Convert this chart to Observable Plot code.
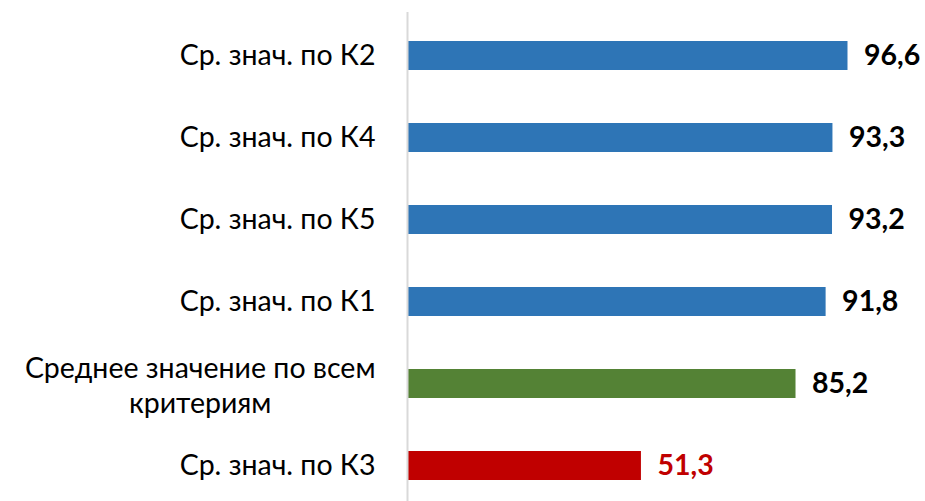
<!DOCTYPE html>
<html><head><meta charset="utf-8">
<script src="https://cdn.jsdelivr.net/npm/d3@7"></script>
<script src="https://cdn.jsdelivr.net/npm/@observablehq/plot@0.6"></script>
<style>body{margin:0;background:#fff} #chart svg{overflow:visible}</style>
</head><body><div id="chart"></div>
<script>
const categories = ["Ср. знач. по К2", "Ср. знач. по К4", "Ср. знач. по К5", "Ср. знач. по К1", "Среднее значение по всем\nкритериям", "Ср. знач. по К3"];
const values = [96.6, 93.3, 93.2, 91.8, 85.2, 51.3];
const groups = ["criterion", "criterion", "criterion", "criterion", "overall", "lowest"];

const groupColors = {criterion: "#2E75B6", overall: "#548235", lowest: "#C00000"};
const labelColors = {criterion: "#000000", overall: "#000000", lowest: "#C00000"};
const FONT = "Lato, 'Open Sans', sans-serif";
const FS = 28.5;
const fmt = v => d3.format(".1f")(v).replace(".", ",");

const data = categories.map((c, i) => ({category: c, value: values[i], group: groups[i]}));
const single = data.filter(d => !d.category.includes("\n"));
const multi = data.filter(d => d.category.includes("\n"));

const ctx = document.createElement("canvas").getContext("2d");
ctx.font = `${FS}px ${FONT}`;
const blockWidth = s => Math.max(...s.split("\n").map(l => ctx.measureText(l).width));
const GAP = 32;

const chart = Plot.plot({
  width: 925, height: 501,
  marginTop: 12, marginBottom: 0, marginLeft: 407, marginRight: 62,
  style: {fontFamily: FONT, background: "#fff"},
  x: {domain: [0, 100], axis: null},
  y: {domain: categories, range: [12.7, 508.3], paddingInner: 0.65, paddingOuter: 0.325, axis: null},
  color: {type: "identity"},
  marks: [
    Plot.barX(data, {x: "value", y: "category", fill: d => groupColors[d.group]}),
    Plot.ruleX([0], {stroke: "#d9d9d9", strokeWidth: 2}),
    Plot.text(single, {x: 0, y: "category", text: "category", textAnchor: "end", dx: -GAP, fontSize: FS, fill: "#000"}),
    ...multi.map(d => Plot.text([d], {x: 0, y: "category", text: "category", textAnchor: "middle",
      dx: -GAP - blockWidth(d.category) / 2, fontSize: FS, lineHeight: 1.26, fill: "#000"})),
    Plot.text(data, {x: "value", y: "category", text: d => fmt(d.value), textAnchor: "start", dx: 16,
      fontSize: FS, fontWeight: "bold", fill: d => labelColors[d.group]})
  ]
});
document.getElementById("chart").append(chart);
</script>
</body></html>
